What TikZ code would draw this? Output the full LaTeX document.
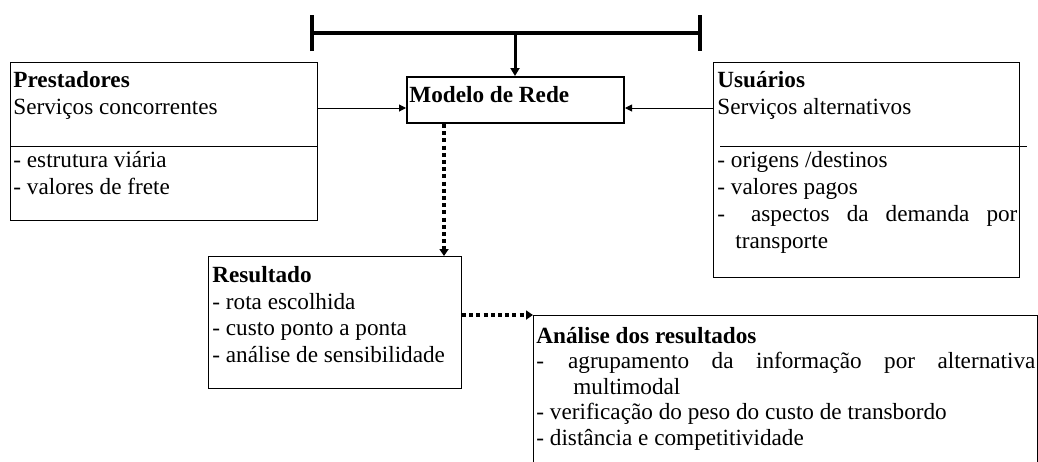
\documentclass[tikz,border=0pt]{standalone}
\usepackage{fontspec}
\setmainfont{Liberation Serif}
\usetikzlibrary{arrows.meta}

\begin{document}
\begin{tikzpicture}[x=0.5pt, y=-0.5pt,
  frame/.style={draw, line width=0.5pt, inner sep=0pt, anchor=north west},
  txt/.style={anchor=north west, inner sep=0pt, align=left, font=\fontsize{11.6}{13.4}\selectfont},
  feed/.style={line width=0.5pt, -{Triangle[length=3.5pt,width=3.5pt]}},
  dots/.style={line width=2pt, dash pattern=on 2pt off 1.6pt, -{Triangle[length=3.5pt,width=4.5pt]}}]

  \newcommand\PX{0.5pt}

  \clip (0,0) rectangle (1038,461);

  %% boxes
  \node[frame, minimum width=307*\PX, minimum height=158*\PX] (prest) at (10,62) {};
  \node[frame, minimum width=306*\PX, minimum height=215*\PX] (usu) at (713,62) {};
  \node[frame, line width=1pt, minimum width=217*\PX, minimum height=46*\PX] (modelo) at (406,76) {};
  \node[frame, minimum width=253*\PX, minimum height=132*\PX] (result) at (208,256) {};
  \node[frame, minimum width=504*\PX, minimum height=170*\PX] (anal) at (533,315) {};

  %% texts
  \node[txt] (prest text) at (13,68.2) {\strut\textbf{Prestadores}\\Serviços concorrentes\\[13.4pt]
    - estrutura viária\\- valores de frete};
  \draw[line width=0.5pt] (prest.west |- 0,146) -- (prest.east |- 0,146);

  \node[txt] (usu text) at (717,68.2) {\strut\textbf{Usuários}\\Serviços alternativos\\[13.4pt]
    - origens /destinos\\- valores pagos\\
    \makebox[150pt][s]{-\hspace{13pt}aspectos da demanda por}\\
    \hspace*{9pt}transporte};
  \draw[line width=0.5pt] (720,146) -- (1027,146);

  \node[txt, anchor=base west] (modelo text) at (409,102) {\textbf{Modelo de Rede}};

  \node[txt] (result text) at (212,263.2) {\strut\textbf{Resultado}\\- rota escolhida\\
    - custo ponto a ponta\\- análise de sensibilidade};

  \node[txt, font=\fontsize{11.6}{12.75}\selectfont] (anal text) at (536,325.2) {\strut\textbf{Análise dos resultados}\\
    \makebox[249.5pt][s]{-\hspace{12pt}agrupamento da informação por alternativa}\\
    \hspace*{18.5pt}multimodal\\
    - verificação do peso do custo de transbordo\\
    - distância e competitividade};

  %% bar on top
  \coordinate (barL) at (310,33);
  \coordinate (barR) at (702,33);
  \coordinate (barM) at (515,33);
  \draw[line width=2pt, {Bar[width=18pt]}-{Bar[width=18pt]}] (barL) -- (barR);
  \draw[line width=1.5pt, -{Triangle[length=4pt,width=4.5pt]}] (barM) -- (barM |- modelo.north);

  %% inputs
  \coordinate (inL) at ([yshift=-4pt]modelo.west);
  \coordinate (inR) at ([yshift=-4pt]modelo.east);
  \draw[feed] (prest.east |- inL) -- (inL); % prest->modelo
  \draw[feed] (usu.west |- inR) -- (inR);   % usu->modelo

  %% outputs
  \coordinate (outB) at ([xshift=-9pt]result.north east);
  \draw[dots] (modelo.south -| outB) -- (outB); %% modelo->result
  \draw[dots] (result.east |- anal.north west) -- (anal.north west); %% result->anal

\end{tikzpicture}
\end{document}
